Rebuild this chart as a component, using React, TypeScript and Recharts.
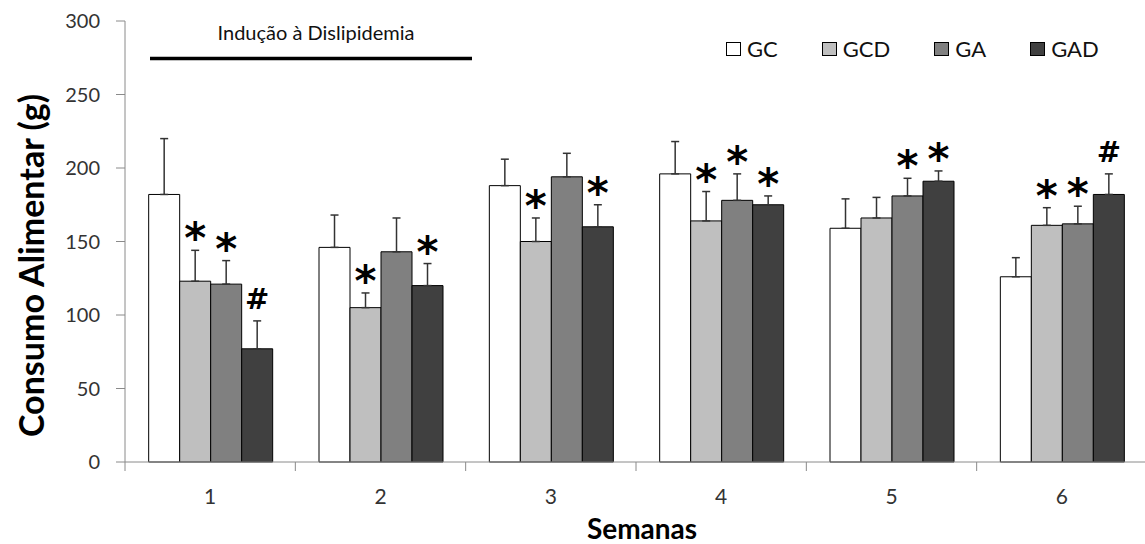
import React from 'react';
import { BarChart, Bar, XAxis, YAxis, ErrorBar, Legend, LabelList, Customized } from 'recharts';

const weeks = ['1', '2', '3', '4', '5', '6'];
const gc = [182, 146, 188, 196, 159, 126];
const gcd = [123, 105, 150, 164, 166, 161];
const ga = [121, 143, 194, 178, 181, 162];
const gad = [77, 120, 160, 175, 191, 182];
const gcErr = [38, 22, 18, 22, 20, 13];
const gcdErr = [21, 10, 16, 20, 14, 12];
const gaErr = [16, 23, 16, 18, 12, 12];
const gadErr = [19, 15, 15, 6, 7, 14];
const gcMarks = ['', '', '', '', '', ''];
const gcdMarks = ['*', '*', '*', '*', '', '*'];
const gaMarks = ['*', '', '', '*', '*', '*'];
const gadMarks = ['#', '*', '*', '*', '*', '#'];
const yTicks = [0, 50, 100, 150, 200, 250, 300];
const seriesNames = ['GC', 'GCD', 'GA', 'GAD'];
const annotationText = 'Indução à Dislipidemia';
const yTitle = 'Consumo Alimentar (g)';
const xTitle = 'Semanas';

const data = weeks.map((w, i) => ({
  week: w,
  gc: gc[i], gcd: gcd[i], ga: ga[i], gad: gad[i],
  gcErr: [0, gcErr[i]], gcdErr: [0, gcdErr[i]], gaErr: [0, gaErr[i]], gadErr: [0, gadErr[i]],
  gcMark: gcMarks[i], gcdMark: gcdMarks[i], gaMark: gaMarks[i], gadMark: gadMarks[i],
}));

const FONT = 'Lato, "Open Sans", sans-serif';

const makeMark = (vals: number[], errs: number[]) => (props: any) => {
  const { x, y, width, height, value, index } = props;
  if (!value) return null;
  const ppu = height / vals[index];
  const top = y - errs[index] * ppu;
  const cx = x + width / 2;
  if (value === '*') {
    return (
      <text x={cx} y={top + 3} textAnchor="middle" fontFamily="DejaVu Sans" fontWeight="bold" fontSize={42} fill="#000">*</text>
    );
  }
  return (
    <text x={cx} y={top - 12} textAnchor="middle" fontFamily="DejaVu Sans" fontWeight="bold" fontSize={29} fill="#000">{value}</text>
  );
};

const XTick = (props: any) => {
  const { x, y, payload, index } = props;
  const off = payload.offset ?? 0;
  const axisY = y - 27;
  return (
    <g>
      <line x1={x - off} x2={x - off} y1={axisY} y2={axisY + 9} stroke="#8a8a8a" strokeWidth={1} />
      {index === weeks.length - 1 && (
        <line x1={x + off} x2={x + off} y1={axisY} y2={axisY + 9} stroke="#8a8a8a" strokeWidth={1} />
      )}
      <text x={x} y={y} dy="0.71em" textAnchor="middle" fontFamily={FONT} fontSize={21} fill="#333">{payload.value}</text>
    </g>
  );
};

const renderLegend = (props: any) => {
  const items = [...(props.payload || [])].sort(
    (a: any, b: any) => seriesNames.indexOf(a.value) - seriesNames.indexOf(b.value)
  );
  return (
    <div style={{ display: 'flex', alignItems: 'center', fontFamily: FONT, fontSize: 22, lineHeight: '22px', color: '#111' }}>
      {items.map((p: any, i: number) => (
        <div key={i} style={{ display: 'flex', alignItems: 'center', marginRight: 44 }}>
          <span style={{ display: 'inline-block', width: 13, height: 12, background: p.color, border: '1px solid #000', marginRight: 6 }} />
          <span>{p.value}</span>
        </div>
      ))}
    </div>
  );
};

const Annotation = () => (
  <g>
    <text x={316} y={39.5} textAnchor="middle" fontFamily={FONT} fontSize={20} fill="#111">{annotationText}</text>
    <line x1={150} x2={472} y1={58.5} y2={58.5} stroke="#000" strokeWidth={3.5} />
  </g>
);

export default function App() {
  return (
    <div style={{ position: 'absolute', left: 0, top: 0, width: 1145, height: 544, overflow: 'hidden', background: '#fff' }}>
      <BarChart
        width={1150}
        height={544}
        data={data}
        margin={{ top: 21, right: 3, bottom: 0, left: 0 }}
        barCategoryGap="13.9%"
        barGap={0}
        style={{ fontFamily: FONT }}
      >
        <XAxis
          dataKey="week"
          height={82}
          tickLine={false}
          tickSize={0}
          tickMargin={27}
          axisLine={{ stroke: '#8a8a8a', strokeWidth: 1 }}
          tick={<XTick />}
          interval={0}
          label={{
            content: (p: any) => {
              const vb = p.viewBox || { x: 125, width: 1022 };
              return (
                <text x={vb.x + vb.width / 2 + 6} y={539} textAnchor="middle" fontFamily={FONT} fontWeight="bold" fontSize={28} fill="#000">{xTitle}</text>
              );
            },
          }}
        />
        <YAxis
          width={125}
          domain={[0, 300]}
          ticks={yTicks}
          interval={0}
          tickSize={9}
          tickMargin={16}
          axisLine={{ stroke: '#8a8a8a', strokeWidth: 1 }}
          tickLine={{ stroke: '#8a8a8a', strokeWidth: 1 }}
          tick={{ fontFamily: FONT, fontSize: 20, fill: '#333' }}
          label={{
            content: (p: any) => {
              const vb = p.viewBox || { y: 21, height: 441 };
              const cy = vb.y + vb.height / 2 + 24;
              return (
                <text x={44} y={cy} transform={`rotate(-90, 44, ${cy})`} textAnchor="middle" fontFamily={FONT} fontWeight="bold" fontSize={34} fill="#000">{yTitle}</text>
              );
            },
          }}
        />
        <Legend
          layout="horizontal"
          verticalAlign="middle"
          align="center"
          content={renderLegend}
          wrapperStyle={{ left: 726, top: 37.5, width: 'auto' }}
        />
        <Bar dataKey="gc" name={seriesNames[0]} fill="#ffffff" stroke="#000" strokeWidth={1} isAnimationActive={false}>
          <ErrorBar dataKey="gcErr" width={4} strokeWidth={1.5} stroke="#333" direction="y" />
          <LabelList dataKey="gcMark" content={makeMark(gc, gcErr)} />
        </Bar>
        <Bar dataKey="gcd" name={seriesNames[1]} fill="#bfbfbf" stroke="#000" strokeWidth={1} isAnimationActive={false}>
          <ErrorBar dataKey="gcdErr" width={4} strokeWidth={1.5} stroke="#333" direction="y" />
          <LabelList dataKey="gcdMark" content={makeMark(gcd, gcdErr)} />
        </Bar>
        <Bar dataKey="ga" name={seriesNames[2]} fill="#808080" stroke="#000" strokeWidth={1} isAnimationActive={false}>
          <ErrorBar dataKey="gaErr" width={4} strokeWidth={1.5} stroke="#333" direction="y" />
          <LabelList dataKey="gaMark" content={makeMark(ga, gaErr)} />
        </Bar>
        <Bar dataKey="gad" name={seriesNames[3]} fill="#404040" stroke="#000" strokeWidth={1} isAnimationActive={false}>
          <ErrorBar dataKey="gadErr" width={4} strokeWidth={1.5} stroke="#333" direction="y" />
          <LabelList dataKey="gadMark" content={makeMark(gad, gadErr)} />
        </Bar>
        <Customized component={<Annotation />} />
      </BarChart>
    </div>
  );
}
